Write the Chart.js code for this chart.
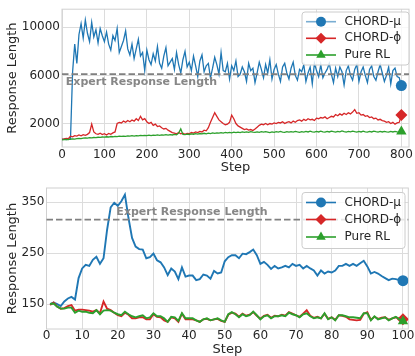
<!DOCTYPE html>
<html>
<head>
<meta charset="utf-8">
<script src="https://cdn.jsdelivr.net/npm/chart.js@4.4.1/dist/chart.umd.min.js"></script>
<style>
  html, body { margin: 0; padding: 0; background: #fff; }
  .box { position: absolute; left: 0; width: 415px; height: 178px; }
  #b1 { top: 0; }
  #b2 { top: 178px; }
</style>
</head>
<body>
<div class="box" id="b1"><canvas id="c1"></canvas></div>
<div class="box" id="b2"><canvas id="c2"></canvas></div>
<script>
// ---- data ----
const seriesNames = ['CHORD-μ', 'CHORD-ϕ', 'Pure RL'];

// top panel: every 5th step, 0..800
const topSteps = Array.from({ length: 161 }, (_, i) => i * 5);
const topMu = [
  680, 700, 660, 720, 700, 6300, 8600, 7000, 9400, 10300, 9100, 10600, 9500, 8800, 10400, 9200, 9800, 8700, 9900, 9300,
  8800, 9600, 8600, 8100, 9300, 8900, 9900, 7900, 8400, 8900, 9700, 8200, 7700, 8600, 7400, 8200, 9000, 7600, 7900, 6400,
  8100, 7300, 6900, 7800, 7200, 8400, 7000, 6600, 7600, 8300, 6800, 7100, 7400, 6500, 7900, 6900, 6200, 7300, 8000, 6700,
  7100, 6400, 7600, 6800, 5900, 7200, 7700, 6300, 6800, 7000, 5800, 6600, 7500, 6900, 6100, 7900, 6400, 6300, 7000, 5700,
  6800, 6400, 7200, 5900, 6100, 6700, 6300, 5500, 7000, 6400, 6600, 5400, 6200, 7100, 6500, 5800, 6900, 6200, 7300, 5700,
  6500, 6900, 6100, 5500, 6700, 7000, 6200, 5700, 6600, 7100, 6000, 5600, 6500, 6300, 6900, 5500, 6200, 6700, 5300, 7000,
  6400, 5900, 6900, 5800, 6200, 6500, 7000, 6100, 5400, 6600, 5900, 6700, 6300, 5200, 6400, 6800, 6000, 5600, 6500, 6900,
  5500, 6300, 6700, 6000, 5400, 6500, 6800, 5900, 5600, 6300, 6900, 6200, 5500, 6000, 6700, 5300, 6400, 6600, 5900, 5800,
  5150
];
const topPhi = [
  700, 720, 760, 740, 950, 900, 1000, 960, 1050, 980, 1080, 1020, 1100, 1250, 1950, 1300, 1150, 1100, 1200, 1080,
  1150, 1050, 1180, 1100, 1220, 1300, 2000, 2100, 2050, 2200, 2100, 2250, 2150, 2300, 2200, 2400, 2250, 2600, 2300, 2400,
  2150, 2000, 2100, 1850, 1950, 1750, 1800, 1650, 1550, 1600, 1450, 1350, 1250, 1200, 1150, 1250, 1150, 1200, 1100, 1180,
  1150, 1250, 1200, 1300, 1250, 1350, 1300, 1450, 1400, 1650, 2100, 2500, 2900, 2600, 2300, 2150, 2000, 1900, 1950, 2100,
  2700, 2400, 2000, 1800, 1700, 1600, 1500, 1550, 1450, 1500, 1420, 1550, 1700, 1850, 1950, 1900, 2000, 1900, 2000, 1950,
  2050, 2000, 2100, 2050, 2150, 2000, 2100, 2150, 2050, 2200, 2100, 2250, 2300, 2200, 2350, 2250, 2400, 2300, 2350, 2250,
  2450, 2400, 2500, 2450, 2550, 2400, 2500, 2600, 2550, 2750, 2650, 2800, 2700, 2850, 2750, 2900, 2800, 2950, 3150, 2850,
  2900, 2700, 2750, 2600, 2650, 2500, 2550, 2400, 2450, 2300, 2350, 2250, 2200, 2100, 2150, 2000, 2100, 1950, 2050, 2100,
  2700
];
const topRL = [
  650, 660, 680, 670, 700, 720, 710, 740, 760, 750, 780, 800, 790, 820, 810, 840, 830, 860, 850, 880,
  870, 900, 880, 920, 900, 940, 910, 950, 930, 960, 940, 980, 950, 990, 960, 1000, 970, 1010, 990, 1020,
  1000, 1030, 990, 1040, 1010, 1050, 1020, 1060, 1030, 1070, 1040, 1080, 1050, 1090, 1060, 1200, 1550, 1100, 1080, 1120,
  1090, 1140, 1110, 1160, 1120, 1170, 1140, 1190, 1150, 1200, 1170, 1220, 1180, 1230, 1200, 1250, 1210, 1260, 1220, 1270,
  1230, 1280, 1240, 1290, 1250, 1300, 1260, 1310, 1270, 1320, 1280, 1260, 1310, 1270, 1320, 1280, 1330, 1290, 1250, 1310,
  1270, 1320, 1280, 1340, 1290, 1260, 1320, 1280, 1330, 1290, 1350, 1300, 1270, 1330, 1290, 1340, 1300, 1360, 1310, 1280,
  1340, 1300, 1360, 1310, 1280, 1350, 1300, 1370, 1320, 1290, 1350, 1310, 1380, 1330, 1290, 1350, 1310, 1370, 1320, 1280,
  1340, 1300, 1360, 1310, 1280, 1350, 1300, 1360, 1320, 1290, 1340, 1300, 1350, 1310, 1280, 1340, 1300, 1350, 1310, 1290,
  1340
];
const topExpert = 6100;
const topXTicks = [0, 100, 200, 300, 400, 500, 600, 700, 800];
const topYTicks = [2000, 6000, 10000];

// bottom panel: steps 1..100
const botSteps = Array.from({ length: 100 }, (_, i) => i + 1);
const botMu = [
  150, 153, 150, 146, 155, 161, 164, 159, 201, 220,
  227, 225, 237, 243, 229, 240, 296, 340, 349, 343,
  352, 365, 319, 280, 263, 258, 257, 240, 242, 249,
  236, 232, 222, 207, 220, 214, 199, 222, 204, 206,
  206, 197, 199, 208, 206, 200, 215, 210, 212, 234,
  242, 246, 246, 240, 249, 248, 252, 257, 246, 229,
  233, 227, 219, 225, 220, 222, 225, 222, 229, 225,
  227, 220, 225, 220, 216, 206, 216, 210, 214, 212,
  216, 225, 225, 229, 225, 229, 225, 230, 235, 224,
  210, 213, 210, 205, 201, 197, 200, 199, 197, 196
];
const botPhi = [
  148, 153, 145, 141, 142, 146, 148, 137, 139, 139,
  138, 137, 135, 138, 132, 155, 141, 138, 133, 128,
  126, 133, 129, 122, 122, 124, 124, 120, 120, 130,
  125, 124, 118, 115, 124, 122, 115, 131, 120, 120,
  120, 118, 115, 120, 121, 118, 120, 121, 117, 115,
  129, 133, 131, 125, 131, 127, 129, 134, 127, 121,
  127, 129, 123, 127, 126, 129, 127, 134, 131, 128,
  125, 131, 138, 127, 123, 125, 122, 131, 121, 124,
  119, 128, 127, 125, 120, 119, 118, 119, 131, 134,
  119, 125, 121, 123, 124, 119, 122, 124, 121, 120
];
const botRL = [
  150, 151, 145, 141, 141, 143, 143, 133, 137, 135,
  135, 133, 132, 138, 130, 137, 138, 137, 133, 130,
  128, 135, 130, 126, 124, 126, 128, 122, 124, 132,
  126, 126, 122, 115, 125, 124, 117, 132, 122, 122,
  122, 118, 115, 120, 122, 118, 120, 122, 118, 115,
  130, 134, 130, 124, 130, 126, 128, 135, 128, 120,
  126, 128, 122, 126, 126, 128, 126, 133, 130, 128,
  124, 130, 132, 126, 122, 124, 122, 132, 120, 124,
  118, 128, 128, 126, 124, 124, 123, 122, 132, 132,
  118, 126, 120, 122, 124, 118, 122, 125, 120, 116
];
const botExpert = 316;
const botXTicks = [0, 10, 20, 30, 40, 50, 60, 70, 80, 90, 100];
const botYTicks = [150, 250, 350];

// ---- styling ----
const FONT = '"DejaVu Sans", sans-serif';
const INK = '#262626';
const GRID = '#dcdcdc';
const COLORS = ['#1f77b4', '#d62728', '#2ca02c'];
const STYLES = ['circle', 'rectRot', 'triangle'];

// light frame around the plot area
const frame = {
  id: 'frame',
  beforeDatasetsDraw(chart) {
    const { ctx, chartArea: a } = chart;
    ctx.save();
    ctx.strokeStyle = '#d0d0d0';
    ctx.lineWidth = 1;
    ctx.strokeRect(a.left, a.top, a.right - a.left, a.bottom - a.top);
    ctx.restore();
  }
};

// dashed expert line with its label
const expert = {
  id: 'expert',
  afterDatasetsDraw(chart, args, o) {
    const { ctx, chartArea: a, scales } = chart;
    const py = scales.y.getPixelForValue(o.value);
    ctx.save();
    ctx.strokeStyle = '#808080';
    ctx.lineWidth = 1.8;
    ctx.setLineDash([6.5, 3]);
    ctx.beginPath();
    ctx.moveTo(a.left, py);
    ctx.lineTo(a.right, py);
    ctx.stroke();
    ctx.setLineDash([]);
    ctx.font = 'bold 11px ' + FONT;
    ctx.fillStyle = '#878787';
    ctx.textBaseline = 'middle';
    ctx.fillText('Expert Response Length', scales.x.getPixelForValue(o.labelX), py + o.dy);
    ctx.restore();
  }
};

function marker(ctx, style, x, y, r) {
  ctx.beginPath();
  if (style === 'circle') {
    ctx.arc(x, y, r, 0, Math.PI * 2);
  } else if (style === 'rectRot') {
    ctx.moveTo(x, y - r); ctx.lineTo(x + r, y); ctx.lineTo(x, y + r); ctx.lineTo(x - r, y);
  } else {
    ctx.moveTo(x, y - r); ctx.lineTo(x + r * 0.866, y + r * 0.5); ctx.lineTo(x - r * 0.866, y + r * 0.5);
  }
  ctx.closePath();
  ctx.fill();
}

// matplotlib-like legend: framed box, line + marker handles
const boxLegend = {
  id: 'boxLegend',
  afterDraw(chart, args, o) {
    const ctx = chart.ctx;
    ctx.save();
    ctx.beginPath();
    ctx.roundRect(o.x, o.y, o.w, o.h, 3);
    ctx.fillStyle = 'rgba(255,255,255,0.8)';
    ctx.fill();
    ctx.strokeStyle = '#cccccc';
    ctx.lineWidth = 1;
    ctx.stroke();
    ctx.font = '12px ' + FONT;
    ctx.textBaseline = 'middle';
    seriesNames.forEach((name, i) => {
      const y = o.rows[i];
      ctx.strokeStyle = o.lineColors[i];
      ctx.lineWidth = 1.6;
      ctx.beginPath();
      ctx.moveTo(o.x + 4, y);
      ctx.lineTo(o.x + 34, y);
      ctx.stroke();
      ctx.fillStyle = COLORS[i];
      marker(ctx, STYLES[i], o.x + 19, y, i === 0 ? 5 : 5.5);
      ctx.fillStyle = INK;
      ctx.fillText(name, o.x + 42.5, y);
    });
    ctx.restore();
  }
};

function makeChart(id, c) {
  const sets = [c.mu, c.phi, c.rl].map((vals, i) => ({
    label: seriesNames[i],
    data: c.steps.map((s, j) => ({ x: s, y: vals[j] })),
    borderColor: COLORS[i],
    backgroundColor: COLORS[i],
    borderWidth: c.lw,
    pointStyle: STYLES[i],
    pointRadius: ctx => (ctx.dataIndex === vals.length - 1 ? (i === 0 ? 5.5 : 6) : 0),
    pointBorderWidth: 0,
    pointHoverRadius: 0,
    tension: 0,
    order: 2 - i
  }));

  return new Chart(document.getElementById(id), {
    type: 'line',
    data: { datasets: sets },
    plugins: [frame, expert, boxLegend],
    options: {
      responsive: true,
      maintainAspectRatio: false,
      animation: false,
      events: [],
      layout: { padding: { top: c.padTop, right: 5, left: 0, bottom: 0 } },
      plugins: {
        legend: { display: false },
        tooltip: { enabled: false },
        expert: c.expert,
        boxLegend: c.legend
      },
      scales: {
        x: {
          type: 'linear',
          min: c.xMin,
          max: c.xMax,
          afterBuildTicks: s => { s.ticks = c.xTicks.map(v => ({ value: v })); },
          afterFit: s => { s.height = c.xHeight; },
          border: { display: false },
          grid: { color: GRID, lineWidth: 1, drawTicks: false },
          ticks: { padding: c.xPad, color: INK, font: { family: FONT, size: 12, lineHeight: 1 }, callback: v => String(v), maxRotation: 0 },
          title: { display: true, text: 'Step', color: INK, font: { family: FONT, size: 13, lineHeight: 1 }, padding: { top: 0, bottom: c.titlePad } }
        },
        y: {
          type: 'linear',
          min: c.yMin,
          max: c.yMax,
          afterBuildTicks: s => { s.ticks = c.yTicks.map(v => ({ value: v })); },
          afterFit: s => { s.width = c.yWidth; },
          border: { display: false },
          grid: { color: GRID, lineWidth: 1, drawTicks: false },
          ticks: { padding: 2, color: INK, font: { family: FONT, size: 12 }, callback: v => String(v) },
          title: { display: true, text: 'Response Length', color: INK, font: { family: FONT, size: 13, lineHeight: 1 }, padding: { top: 6, bottom: 0 } }
        }
      }
    }
  });
}

makeChart('c1', {
  steps: topSteps, mu: topMu, phi: topPhi, rl: topRL, lw: 1.3,
  xMin: 0, xMax: 818, yMin: 50, yMax: 11500,
  xTicks: topXTicks, yTicks: topYTicks,
  padTop: 5, xHeight: 31, yWidth: 62, xPad: 2, titlePad: 3.5,
  expert: { value: topExpert, labelX: 9, dy: 7.5 },
  legend: { x: 302, y: 12, w: 107, h: 53, rows: [21.7, 38.3, 55], lineColors: ['rgba(31,119,180,0.6)', COLORS[1], COLORS[2]] }
});

makeChart('c2', {
  steps: botSteps, mu: botMu, phi: botPhi, rl: botRL, lw: 1.9,
  xMin: 0, xMax: 101.5, yMin: 101, yMax: 378,
  xTicks: botXTicks, yTicks: botYTicks,
  padTop: 10, xHeight: 27, yWidth: 46.5, xPad: 0.5, titlePad: 0,
  expert: { value: botExpert, labelX: 19.6, dy: -7.5 },
  legend: { x: 302, y: 14.5, w: 103, h: 56, rows: [24.5, 41.5, 59], lineColors: COLORS }
});
</script>
</body>
</html>
